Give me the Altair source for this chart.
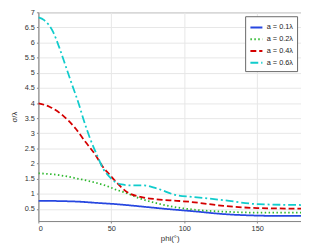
import altair as alt
import pandas as pd

series_names = ["a = 0.1λ", "a = 0.2λ", "a = 0.4λ", "a = 0.6λ"]
colors = ["#2747e0", "#2eb82e", "#d40000", "#11cccc"]
dashes = [[1, 0], [1.5, 2.5], [6, 3], [8, 3, 2, 3]]

phi_01 = [0, 15, 28, 40, 50, 60, 75, 90, 105, 127, 150, 165, 180]
sig_01 = [0.77, 0.76, 0.74, 0.70, 0.67, 0.63, 0.56, 0.49, 0.43, 0.33, 0.28, 0.27, 0.27]

phi_02 = [0, 14, 28, 39, 48, 53, 59, 70, 81, 95, 108, 127, 150, 180]
sig_02 = [1.68, 1.62, 1.49, 1.37, 1.24, 1.14, 1.05, 0.84, 0.69, 0.55, 0.47, 0.41, 0.38, 0.38]

phi_04 = [0, 7.6, 16.5, 25.5, 32.2, 38.9, 44.4, 48, 57, 61, 70, 81, 95, 105, 127, 150, 180]
sig_04 = [3.99, 3.88, 3.60, 3.16, 2.72, 2.30, 1.88, 1.68, 1.21, 1.05, 0.90, 0.82, 0.77, 0.73, 0.60, 0.53, 0.51]

phi_06 = [0, 4, 10, 14.3, 17.6, 23.2, 27.7, 31, 35.5, 40, 44.4, 48, 53, 57, 64, 72, 81, 95, 105, 127, 150, 180]
sig_06 = [6.83, 6.74, 6.36, 5.84, 5.38, 4.59, 3.97, 3.45, 2.82, 2.30, 1.83, 1.60, 1.38, 1.31, 1.28, 1.28, 1.18, 0.95, 0.90, 0.79, 0.66, 0.63]

y_ticks = [0.5, 1, 1.5, 2, 2.5, 3, 3.5, 4, 4.5, 5, 5.5, 6, 6.5, 7]
x_ticks = [0, 50, 100, 150]

rows = []
for name, xs, ys in zip(series_names,
                        [phi_01, phi_02, phi_04, phi_06],
                        [sig_01, sig_02, sig_04, sig_06]):
    for x, y in zip(xs, ys):
        rows.append({"series": name, "phi": x, "sigma": y})
df = pd.DataFrame(rows)

font = "Liberation Sans"

chart = alt.Chart(df).mark_line(strokeWidth=1.8, interpolate="monotone", clip=True).encode(
    x=alt.X("phi:Q", scale=alt.Scale(domain=[0, 180], nice=False),
            axis=alt.Axis(values=x_ticks, title="phi(°)", grid=True, tickSize=2,
                          labelPadding=2, titlePadding=2)),
    y=alt.Y("sigma:Q", scale=alt.Scale(domain=[0.1, 7], nice=False),
            axis=alt.Axis(values=y_ticks, format="~g", title="σ/λ", grid=True, tickSize=2,
                          labelPadding=2, titlePadding=6)),
    color=alt.Color("series:N", scale=alt.Scale(domain=series_names, range=colors),
                    legend=alt.Legend(title=None, orient="top-right", offset=4,
                                      symbolType="stroke", symbolSize=150, symbolStrokeWidth=2,
                                      labelFontSize=7.5, labelFont=font, labelColor="#222",
                                      fillColor="white", strokeColor="#666", padding=4,
                                      rowPadding=0, labelOffset=3)),
    strokeDash=alt.StrokeDash("series:N", scale=alt.Scale(domain=series_names, range=dashes)),
).properties(
    width=268, height=213,
    autosize=alt.AutoSizeParams(type="none"),
    padding={"left": 31, "top": 2, "right": 0, "bottom": 20},
).configure_axis(
    labelFont=font, titleFont=font, labelFontSize=7.5, titleFontSize=8,
    labelColor="#333", titleColor="#333", titleFontWeight="normal",
    gridColor="#e6e6e6", domainColor="#888", tickColor="#888",
).configure_view(
    stroke="#999"
)

chart.save("out.html", embed_options={"renderer": "svg", "actions": False})
